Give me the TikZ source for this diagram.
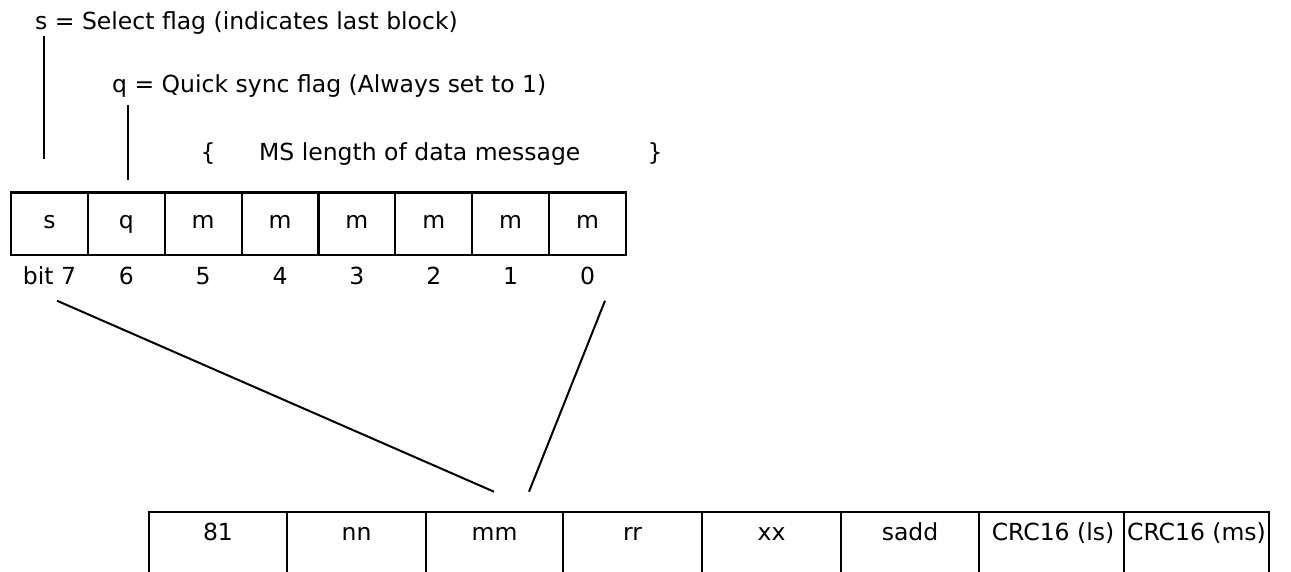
\documentclass[tikz,border=0pt]{standalone}
\usepackage{fontspec}
\setmainfont{DejaVu Sans}
\begin{document}
\begin{tikzpicture}[x=1pt,y=-1pt,
  txt/.style={inner sep=0pt,anchor=base,font=\fontsize{23.5}{28}\selectfont},
  ltxt/.style={txt,anchor=base west},
  ln/.style={line width=2pt,line cap=butt},
  box/.style={line width=2.2pt}]
\useasboundingbox (0,0) rectangle (1291,571);
% header texts
\node[ltxt] (sdesc) at (35,29) {s = Select flag (indicates last block)};
\node[ltxt] (qdesc) at (112,92) {q = Quick sync flag (Always set to 1)};
\node[txt] (lbr) at (208,160) {\{};
\node[ltxt] (msdesc) at (259,160) {MS length of data message};
\node[txt] (rbr) at (655,160) {\}};
% pointer lines
\coordinate (s1) at (44,36); \coordinate (s2) at (44,159);
\coordinate (q1) at (128,105); \coordinate (q2) at (128,180);
\draw[ln] (s1) -- (s2);
\draw[ln] (q1) -- (q2);
% top byte
\def\tl{11}\def\tw{76.875}
\draw[box] (11,192.5) rectangle (626,255);
\foreach \i in {1,...,7}{\draw[box] ({\tl+\i*\tw},192.5) -- ({\tl+\i*\tw},255);}
\foreach \t [count=\i from 0] in {s,q,m,m,m,m,m,m}{
  \node[txt] (c\i) at ({\tl+(\i+0.5)*\tw},228) {\t};}
\foreach \t [count=\i from 0] in {bit 7,6,5,4,3,2,1,0}{
  \node[txt] (b\i) at ({\tl+(\i+0.5)*\tw},284) {\t};}
% diagonals
\coordinate (d1a) at (57,300.7); \coordinate (d1b) at (494,491.7);
\coordinate (d2a) at (605,300.7); \coordinate (d2b) at (529,491.7);
\draw[ln] (d1a) -- (d1b);
\draw[ln] (d2a) -- (d2b);
% bottom frame
\draw[box] (149,572) -- (149,512) -- (1269,512) -- (1269,572);
\foreach \x in {287,426,563,702,841,979,1124}{\draw[box] (\x,512) -- (\x,572);}
\node[txt] (f1) at (218,540) {81};
\node[txt] (f2) at (356.5,540) {nn};
\node[txt] (f3) at (494.5,540) {mm};
\node[txt] (f4) at (632.5,540) {rr};
\node[txt] (f5) at (771.5,540) {xx};
\node[txt] (f6) at (910,540) {sadd};
\node[txt] (f7) at (1053,540) {CRC16 (ls)};
\node[txt] (f8) at (1196.5,540) {CRC16 (ms)};
\end{tikzpicture}
\end{document}
